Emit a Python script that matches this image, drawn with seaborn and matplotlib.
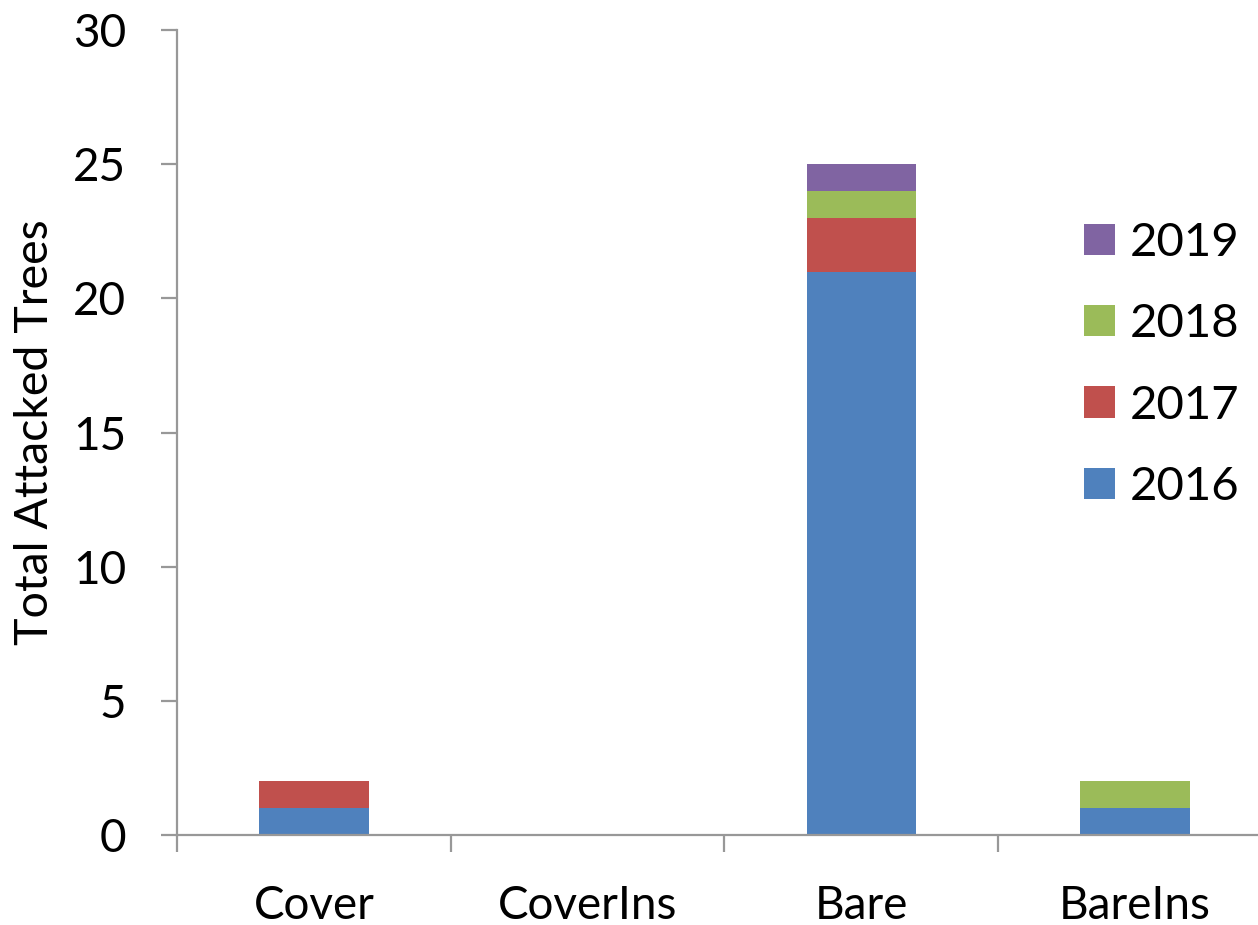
import numpy as np
import pandas as pd
import matplotlib
matplotlib.use("Agg")
import matplotlib.pyplot as plt
from matplotlib.patches import Patch
import seaborn as sns

# Attacked trees per treatment and year
treatments = ["Cover", "CoverIns", "Bare", "BareIns"]
years = ["2016", "2017", "2018", "2019"]
y2016 = [1, 0, 21, 1]
y2017 = [1, 0, 2, 0]
y2018 = [0, 0, 1, 1]
y2019 = [0, 0, 1, 0]
year_colors = ["#4F81BD", "#C0504D", "#9BBB59", "#8064A2"]

sns.set_theme(style="white")
plt.rcParams["font.family"] = ["Lato", "DejaVu Sans"]

counts = np.array([y2016, y2017, y2018, y2019], dtype=float)
cumulative = counts.cumsum(axis=0)

fig = plt.figure(figsize=(12.58, 9.25), dpi=100)
ax = fig.add_axes([177 / 1258, 1 - 835 / 925, 1094.8 / 1258, 805 / 925])

# Stacked bars: draw cumulative totals from the top layer downward
for i in range(len(years) - 1, -1, -1):
    df = pd.DataFrame({"treatment": treatments, "total": cumulative[i]})
    sns.barplot(data=df, x="treatment", y="total", order=treatments,
                color=year_colors[i], saturation=1, width=0.40,
                linewidth=0, ax=ax)

ax.set_xlim(-0.5, 3.5)
ax.set_ylim(0, 30)
ax.set_yticks(np.arange(0, 31, 5))
ax.set_xlabel("")
ax.set_ylabel("Total Attacked Trees", fontsize=33.5, labelpad=12,
              color="black")

spine_color = "#989898"
for side in ["top", "right"]:
    ax.spines[side].set_visible(False)
for side in ["left", "bottom"]:
    ax.spines[side].set_color(spine_color)
    ax.spines[side].set_linewidth(1.6)

ax.tick_params(axis="y", direction="out", length=11.5, width=1.6,
               color=spine_color, labelsize=33, pad=25, left=True)
ax.tick_params(axis="x", which="major", length=0, labelsize=33, pad=36)
ax.set_xticks(np.arange(-0.5, 4.0, 1.0), minor=True)
ax.tick_params(axis="x", which="minor", direction="out", length=12,
               width=1.6, color=spine_color, bottom=True)
for lab in ax.get_xticklabels() + ax.get_yticklabels():
    lab.set_color("black")

handles = [Patch(facecolor=year_colors[i], edgecolor="none", label=years[i])
           for i in range(len(years) - 1, -1, -1)]
fig.legend(handles=handles, loc="upper left",
           bbox_to_anchor=(1065 / 1258, 1 - 203 / 925), frameon=False,
           fontsize=34, handlelength=0.65, handleheight=0.65,
           handletextpad=0.33, labelspacing=0.835, borderaxespad=0,
           labelcolor="black")

fig.savefig("out.png", dpi=100)
